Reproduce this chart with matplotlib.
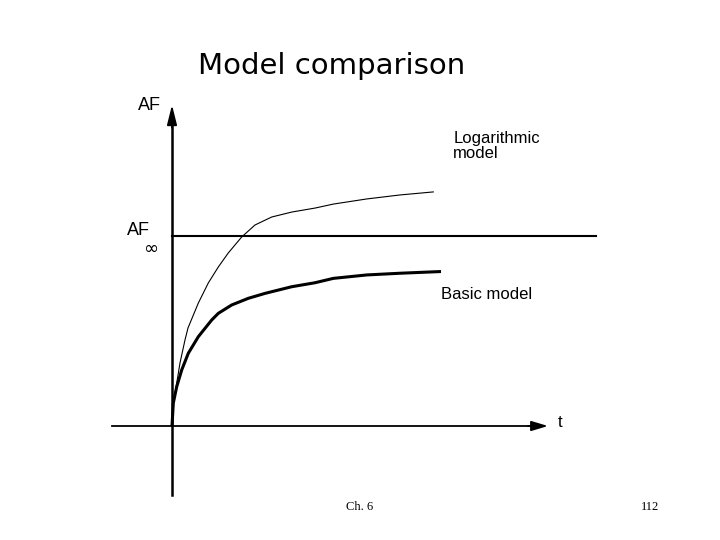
import matplotlib
matplotlib.use("Agg")
import matplotlib.pyplot as plt
import numpy as np

# data units: t = (px-172)/40, AF = (426-py)/190  (AF_inf = 1)
log_t = [0.0, 0.033, 0.118, 0.2, 0.325, 0.4, 0.658, 0.908, 1.158, 1.408, 1.743,
         2.075, 2.493, 2.993, 3.575, 4.033, 4.868, 5.7, 6.533]
log_af = [0.0, 0.121, 0.226, 0.332, 0.453, 0.516, 0.647, 0.753, 0.837, 0.911, 0.995,
          1.058, 1.1, 1.126, 1.147, 1.168, 1.195, 1.216, 1.232]
basic_t = [0.0, 0.033, 0.118, 0.243, 0.408, 0.658, 0.825, 0.993, 1.158, 1.493, 1.908,
           2.325, 2.993, 3.575, 4.033, 4.868, 5.7, 6.725]
basic_af = [0.0, 0.121, 0.207, 0.295, 0.383, 0.47, 0.514, 0.558, 0.593, 0.637, 0.672,
            0.698, 0.733, 0.754, 0.777, 0.795, 0.804, 0.813]
af_inf = 1.0

fig = plt.figure(figsize=(7.2, 5.4), dpi=100)
ax = fig.add_axes([0, 0, 1, 1])
ax.set_xlim(-172/40, (720-172)/40)
ax.set_ylim((426-540)/190, 426/190)
ax.axis("off")

# axes
ax.plot([-1.5, 8.95], [0, 0], color="black", lw=1.3)
ax.annotate("", xy=(9.4, 0), xytext=(8.9, 0),
            arrowprops=dict(arrowstyle="-|>,head_length=1.0,head_width=0.3", color="black",
                            lw=1.3, shrinkA=0, shrinkB=0))
ax.plot([0, 0], [-0.365, 1.58], color="black", lw=1.8)
ax.annotate("", xy=(0, 1.69), xytext=(0, 1.57),
            arrowprops=dict(arrowstyle="-|>,head_length=1.2,head_width=0.3", color="black",
                            lw=1.3, shrinkA=0, shrinkB=0))
ax.plot([0, 10.6], [af_inf, af_inf], color="black", lw=1.5)

# curves
ax.plot(log_t, log_af, color="black", lw=0.8, solid_joinstyle="round")
ax.plot(basic_t, basic_af, color="black", lw=2.2, solid_joinstyle="round", solid_capstyle="butt")

f = "Liberation Sans"
ax.text(-0.85, (426-105)/190, "AF", fontsize=13, family=f, ha="left", va="center")
ax.text(-1.12, 0.985, "AF", fontsize=13, family=f, ha="left", va="bottom")
ax.text(-0.72, 0.985, r"$\infty$", fontsize=13, ha="left", va="top")
ax.text(7.03, (426-146)/190, "Logarithmic\nmodel", fontsize=12, family=f, ha="left", va="center",
        linespacing=0.95)
ax.text(6.73, 0.69, "Basic model", fontsize=12, family=f, ha="left", va="center")
ax.text(9.7, 0.02, "t", fontsize=12, family=f, ha="center", va="center")

fig.text(332/720, 1-66/540, "Model comparison", fontsize=21, ha="center", va="center",
         family="DejaVu Sans")
fig.text(360/720, 1-507/540, "Ch. 6", fontsize=9, ha="center", va="center", family="Liberation Serif")
fig.text(650/720, 1-507/540, "112", fontsize=9, ha="center", va="center", family="Liberation Serif")

fig.savefig("out.png", dpi=100, facecolor="white")
